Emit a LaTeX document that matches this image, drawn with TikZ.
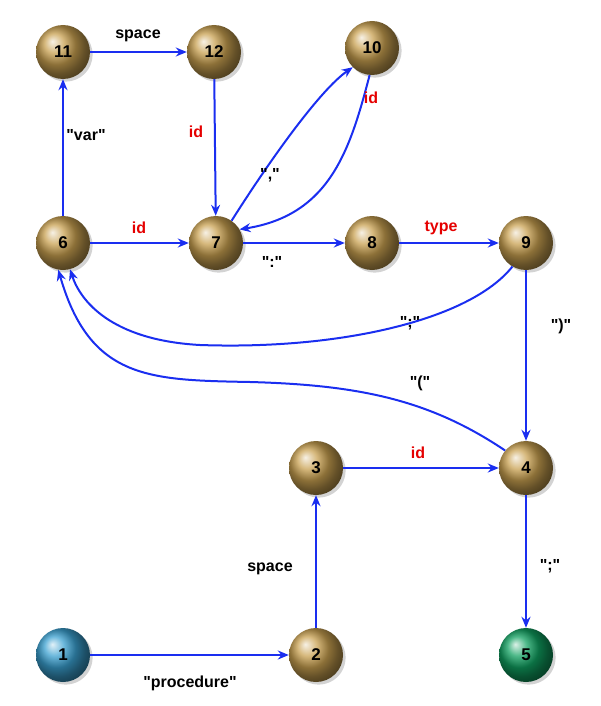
\documentclass[tikz,border=0pt]{standalone}
\usepackage{fontspec}
\setmainfont{Liberation Sans}
\usetikzlibrary{arrows.meta,shadows}
\definecolor{gold}{HTML}{C8A050}
\definecolor{lblue}{HTML}{3AA0D0}
\definecolor{lgreen}{HTML}{10A060}
\definecolor{eb}{HTML}{1A2EF0}
\begin{document}
\begin{tikzpicture}[x=1pt,y=-1pt,
  st/.style={circle,minimum size=54pt,inner sep=0pt,ball color=#1,font=\bfseries\fontsize{17}{17}\selectfont,drop shadow={opacity=0.35}},
  st/.default=gold,
  e/.style={draw=eb,line width=2pt,-{Stealth[length=11pt,width=9pt]}},
  lb/.style={font=\bfseries\fontsize{16}{16}\selectfont},
  rl/.style={lb,text=red!90!black}]
\useasboundingbox (0,0) rectangle (600,706);
\node[st] (n11) at (63,52) {11};
\node[st] (n12) at (214,52) {12};
\node[st] (n10) at (372,48) {10};
\node[st] (n6) at (63,243) {6};
\node[st] (n7) at (216,243) {7};
\node[st] (n8) at (372,243) {8};
\node[st] (n9) at (526,243) {9};
\node[st] (n3) at (316,468) {3};
\node[st] (n4) at (526,468) {4};
\node[st=lblue] (n1) at (63,655) {1};
\node[st] (n2) at (316,655) {2};
\node[st=lgreen] (n5) at (526,655) {5};
\draw[e] (n11) -- (n12);
\draw[e] (n6) -- (n11);
\draw[e] (n12) -- (n7);
\draw[e] (n7.55) .. controls (270,160) and (320,90) .. (n10.225);
\draw[e] (n10.265) .. controls (350,150) and (330,215) .. (n7.30);
\draw[e] (n6) -- (n7);
\draw[e] (n7) -- (n8);
\draw[e] (n8) -- (n9);
\draw[e] (n9.240) .. controls (470,320) and (340,350) .. (200,345) .. controls (110,340) and (80,300) .. (n6.285);
\draw[e] (n9) -- (n4);
\draw[e] (n4.140) .. controls (430,400) and (360,385) .. (250,382) .. controls (150,380) and (90,380) .. (n6.260);
\draw[e] (n3) -- (n4);
\draw[e] (n2) -- (n3);
\draw[e] (n1) -- (n2);
\draw[e] (n4) -- (n5);
\node[lb] (l1) at (138,36) {space};
\node[lb] (l2) at (86,135) {\textquotedbl var\textquotedbl};
\node[rl] (l3) at (196,132) {id};
\node[lb] (l4) at (270,175) {\textquotedbl,\textquotedbl};
\node[rl] (l5) at (371,98) {id};
\node[rl] (l6) at (139,228) {id};
\node[lb] (l7) at (272,262) {\textquotedbl:\textquotedbl};
\node[rl] (l8) at (441,228) {type};
\node[lb] (l9) at (410,323) {\textquotedbl;\textquotedbl};
\node[lb] (l10) at (561,326) {\textquotedbl)\textquotedbl};
\node[lb] (l11) at (420,383) {\textquotedbl(\textquotedbl};
\node[rl] (l12) at (418,453) {id};
\node[lb] (l13) at (270,569) {space};
\node[lb] (l14) at (550,566) {\textquotedbl;\textquotedbl};
\node[lb] (l15) at (190,683) {\textquotedbl procedure\textquotedbl};
\end{tikzpicture}
\end{document}
